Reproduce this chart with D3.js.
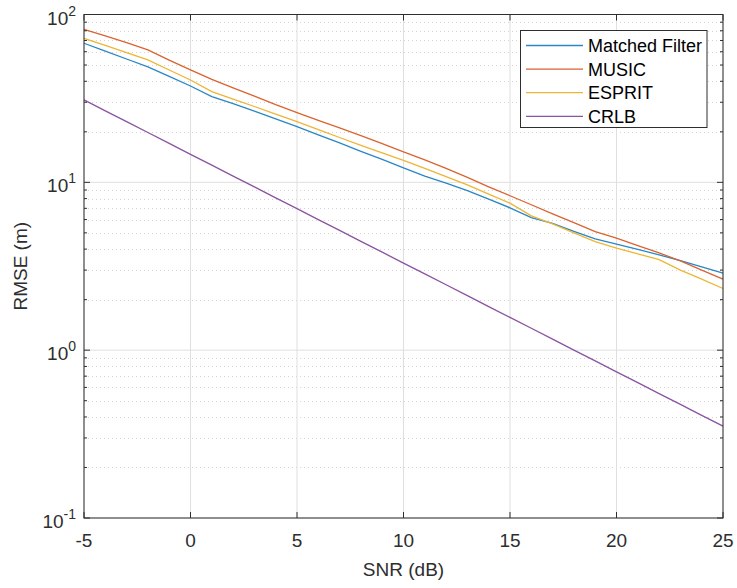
<!DOCTYPE html>
<html>
<head>
<meta charset="utf-8">
<script src="https://cdn.jsdelivr.net/npm/d3@7"></script>
<style>
  body { margin: 0; background: #fff; }
  svg { display: block; font-family: "Liberation Sans", Arial, sans-serif; }
</style>
</head>
<body>
<div id="chart"></div>
<script>
// SNR in dB
var snr = [-5,-4,-3,-2,-1,0,1,2,3,4,5,6,7,8,9,10,11,12,13,14,15,16,17,18,19,20,21,22,23,24,25];

// RMSE in metres
var matchedFilter = [67.4,60.5,54.3,48.8,42.8,37.5,32.4,29.4,26.6,23.9,21.5,19.2,17.2,15.3,13.7,12.2,10.9,9.9,8.93,7.95,7.05,6.17,5.7,5.1,4.6,4.29,3.98,3.70,3.42,3.14,2.88];
var music = [81.6,74.5,68,61.5,53.5,46.8,41.1,36.5,32.6,29.0,26.0,23.4,21.1,19.0,17.0,15.2,13.6,12.1,10.7,9.4,8.32,7.35,6.49,5.75,5.09,4.65,4.2,3.8,3.4,3.0,2.65];
var esprit = [72.1,65.5,59.3,53.6,46.7,40.7,34.7,31.3,28.3,25.5,23.0,20.6,18.5,16.6,15.0,13.5,12.1,10.8,9.66,8.5,7.51,6.31,5.66,5.0,4.44,4.06,3.75,3.46,3.0,2.65,2.33];
var crlb = [30.97,26.68,22.98,19.80,17.05,14.69,12.65,10.90,9.389,8.087,6.966,6.001,5.169,4.453,3.836,3.304,2.846,2.452,2.112,1.819,1.567,1.350,1.163,1.001,0.8625,0.7430,0.6400,0.5513,0.4749,0.4091,0.3524];

var seriesNames = ["Matched Filter", "MUSIC", "ESPRIT", "CRLB"];
var seriesColors = ["#2a86c6", "#da6330", "#eeb534", "#8b53a0"];
var seriesData = [matchedFilter, music, esprit, crlb];

var xTicks = [-5, 0, 5, 10, 15, 20, 25];
var yDecades = [-1, 0, 1, 2];

var W = 737, H = 588;
var pLeft = 84, pRight = 723, pTop = 14.5, pBottom = 518;

var svg = d3.select('#chart').append('svg')
  .attr('width', W)
  .attr('height', H);

var x = d3.scaleLinear().domain([-5, 25]).range([pLeft, pRight]);
var y = d3.scaleLog().domain([0.1, 100]).range([pBottom, pTop]);

var axisColor = '#2e2e2e';

// minor grid (dotted)
var minor = [];
for (var p = -1; p < 2; p++) {
  for (var m = 2; m <= 9; m++) minor.push(m * Math.pow(10, p));
}
svg.append('g').selectAll('line')
  .data(minor)
  .enter().append('line')
  .attr('x1', pLeft).attr('x2', pRight)
  .attr('y1', function (d) { return Math.round(y(d)) + 0.5; })
  .attr('y2', function (d) { return Math.round(y(d)) + 0.5; })
  .style('stroke', '#d4d4d4')
  .style('stroke-width', 1)
  .style('stroke-dasharray', '1,3');

// major grid
svg.append('g').selectAll('line')
  .data(yDecades)
  .enter().append('line')
  .attr('x1', pLeft).attr('x2', pRight)
  .attr('y1', function (d) { return y(Math.pow(10, d)); })
  .attr('y2', function (d) { return y(Math.pow(10, d)); })
  .style('stroke', '#dfdfdf')
  .style('stroke-width', 1);

svg.append('g').selectAll('line')
  .data(xTicks)
  .enter().append('line')
  .attr('x1', function (d) { return x(d); })
  .attr('x2', function (d) { return x(d); })
  .attr('y1', pTop).attr('y2', pBottom)
  .style('stroke', '#dfdfdf')
  .style('stroke-width', 1);

// lines
var line = d3.line()
  .x(function (d, i) { return x(snr[i]); })
  .y(function (d) { return y(d); });

seriesData.forEach(function (s, k) {
  svg.append('path')
    .datum(s)
    .attr('d', line)
    .style('fill', 'none')
    .style('stroke', seriesColors[k])
    .style('stroke-width', 1.3);
});

// ticks, inside, both sides
var ticks = svg.append('g')
  .style('stroke', axisColor)
  .style('stroke-width', 1);

xTicks.forEach(function (t) {
  ticks.append('line').attr('x1', x(t)).attr('x2', x(t)).attr('y1', pBottom).attr('y2', pBottom - 6);
  ticks.append('line').attr('x1', x(t)).attr('x2', x(t)).attr('y1', pTop).attr('y2', pTop + 6);
});
yDecades.forEach(function (d) {
  var yy = y(Math.pow(10, d));
  ticks.append('line').attr('x1', pLeft).attr('x2', pLeft + 6).attr('y1', yy).attr('y2', yy);
  ticks.append('line').attr('x1', pRight).attr('x2', pRight - 6).attr('y1', yy).attr('y2', yy);
});
minor.forEach(function (v) {
  var yy = y(v);
  ticks.append('line').attr('x1', pLeft).attr('x2', pLeft + 3).attr('y1', yy).attr('y2', yy);
  ticks.append('line').attr('x1', pRight).attr('x2', pRight - 3).attr('y1', yy).attr('y2', yy);
});

// box
svg.append('rect')
  .attr('x', pLeft).attr('y', pTop)
  .attr('width', pRight - pLeft).attr('height', pBottom - pTop)
  .style('fill', 'none')
  .style('stroke', axisColor)
  .style('stroke-width', 1);

// tick labels
svg.append('g').selectAll('text')
  .data(xTicks)
  .enter().append('text')
  .attr('x', function (d) { return x(d); })
  .attr('y', pBottom + 29)
  .attr('text-anchor', 'middle')
  .style('font-size', '19px')
  .style('fill', axisColor)
  .text(function (d) { return d; });

yDecades.forEach(function (d) {
  var t = svg.append('text')
    .attr('x', 76)
    .attr('y', y(Math.pow(10, d)) + 10)
    .attr('text-anchor', 'end')
    .style('font-size', '19px')
    .style('fill', axisColor);
  t.append('tspan').text('10');
  t.append('tspan')
    .attr('dy', -9)
    .style('font-size', '14px')
    .text(d);
});

// axis labels
svg.append('text')
  .attr('x', (pLeft + pRight) / 2)
  .attr('y', 576)
  .attr('text-anchor', 'middle')
  .style('font-size', '19px')
  .style('fill', axisColor)
  .text('SNR (dB)');

svg.append('text')
  .attr('transform', 'translate(27,' + ((pTop + pBottom) / 2) + ') rotate(-90)')
  .attr('text-anchor', 'middle')
  .style('font-size', '19px')
  .style('fill', axisColor)
  .text('RMSE (m)');

// legend
var lg = svg.append('g');
lg.append('rect')
  .attr('x', 520.5).attr('y', 30.5)
  .attr('width', 186.5).attr('height', 97)
  .style('fill', '#fff')
  .style('stroke', axisColor)
  .style('stroke-width', 1);

seriesNames.forEach(function (n, k) {
  var yy = 45.5 + k * 23.6;
  lg.append('line')
    .attr('x1', 526).attr('x2', 583)
    .attr('y1', yy).attr('y2', yy)
    .style('stroke', seriesColors[k])
    .style('stroke-width', 1.3);
  lg.append('text')
    .attr('x', 588)
    .attr('y', yy + 6.5)
    .style('font-size', '18px')
    .style('fill', '#000')
    .text(n);
});
</script>
</body>
</html>
